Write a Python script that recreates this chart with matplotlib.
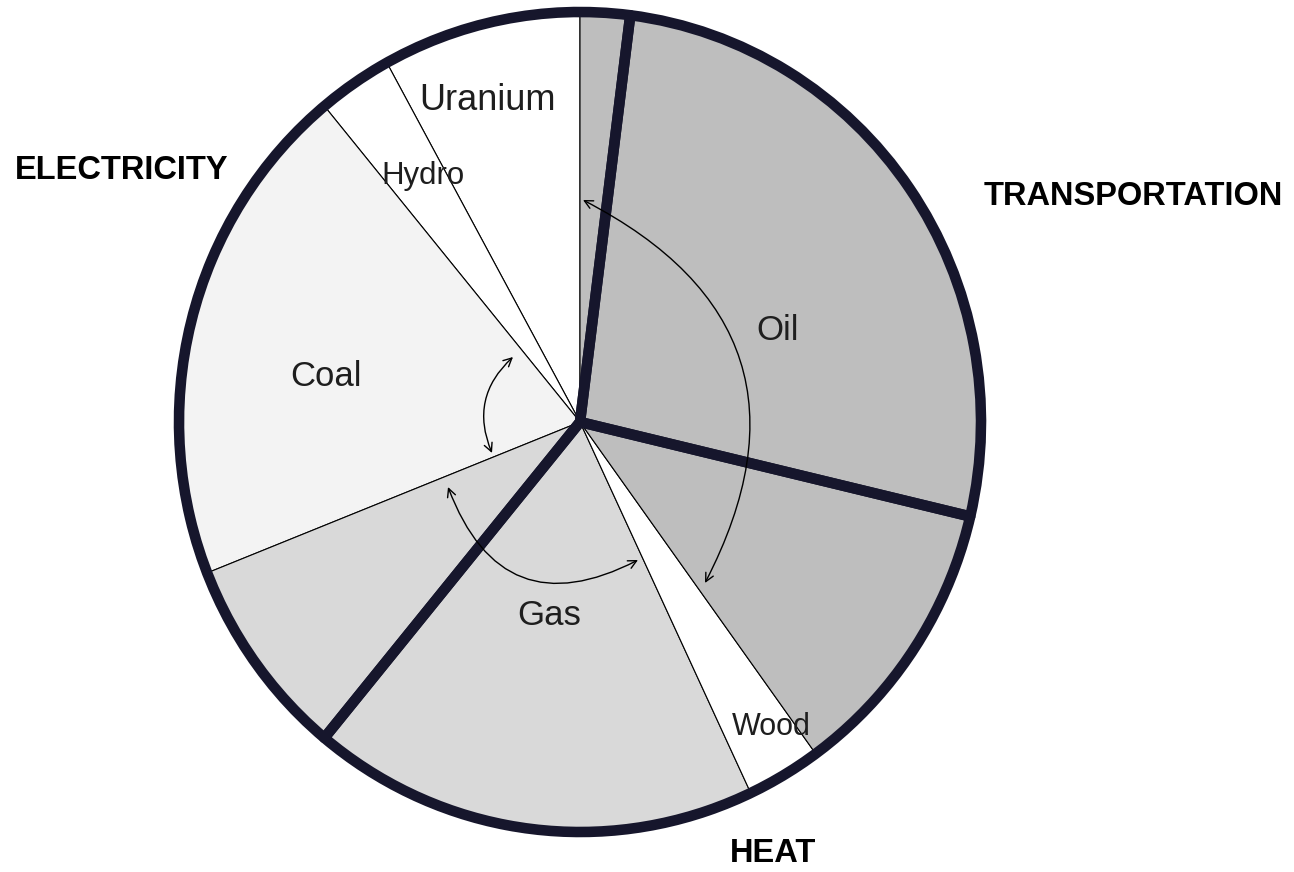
import matplotlib
matplotlib.use("Agg")
import matplotlib.pyplot as plt

# Fuel shares (percent of total primary energy)
fuels = ["Uranium", "Hydro", "Coal", "Gas", "Wood", "Oil"]
fuel_share = [8, 3, 20, 26, 3, 40]
fuel_colors = ["#ffffff", "#ffffff", "#f3f3f3", "#d9d9d9", "#ffffff", "#bebebe"]

# End-use sectors (percent), going counter-clockwise from the Electricity start
sectors = ["ELECTRICITY", "HEAT", "TRANSPORTATION"]
sector_share = [41, 32.3, 26.7]
oil_to_electricity = 2  # part of oil wedge that lies in the electricity sector

plt.rcParams["font.family"] = ["Liberation Sans", "DejaVu Sans"]

fig = plt.figure(figsize=(12.94, 8.72), dpi=100)
ax = fig.add_axes([0, 0, 1, 1])

# fuel pie with thin boundaries
ax.pie(fuel_share, colors=fuel_colors, startangle=90, counterclock=True,
       radius=1.0, wedgeprops=dict(edgecolor="black", linewidth=0.8))

# sector pie: thick dark outlines only
start_sec = 90 - oil_to_electricity * 3.6
ax.pie(sector_share, colors=["none"] * 3, startangle=start_sec, counterclock=True,
       radius=1.0, wedgeprops=dict(edgecolor="#16162c", linewidth=7.6,
                                   facecolor="none", joinstyle="round"))

ax.set_aspect("auto")
# map pixels: center (580, 422), rx=400, ry=410
W, H = 1294, 872
cx, cy, rx, ry = 580, 422, 401, 410
ax.set_xlim((0 - cx) / rx, (W - cx) / rx)
ax.set_ylim((cy - H) / ry, (cy - 0) / ry)
ax.axis("off")


def P(px, py):
    return ((px - cx) / rx, (cy - py) / ry)


tc = "#1e1e1e"
fuel_label_pos = {"Uranium": (487, 100, 26), "Hydro": (423, 176, 22.5),
                  "Coal": (326, 376, 25), "Gas": (549, 615, 25),
                  "Wood": (771, 727, 22), "Oil": (778, 330, 25)}
for name in fuels:
    px, py, fs = fuel_label_pos[name]
    ax.text(*P(px, py), name, ha="center", va="center", fontsize=fs, color=tc)

sector_label_pos = {"ELECTRICITY": (122, 170), "TRANSPORTATION": (1133, 196),
                    "HEAT": (773, 853)}
for name in sectors:
    px, py = sector_label_pos[name]
    ax.text(*P(px, py), name, ha="center", va="center", fontsize=23.5,
            fontweight="bold", color="black")

# curved double arrows
arrows = [((583, 200), (705, 583), -0.5),
          ((513, 357), (492, 453), 0.35),
          ((448, 487), (638, 560), 0.56)]
for (p1, p2, rad) in arrows:
    ax.annotate("", xy=P(*p2), xytext=P(*p1),
                arrowprops=dict(arrowstyle="<->,head_length=0.6,head_width=0.3",
                                connectionstyle=f"arc3,rad={rad}",
                                color="black", lw=1.0,
                                shrinkA=0, shrinkB=0))

fig.savefig("out.png", dpi=100)
